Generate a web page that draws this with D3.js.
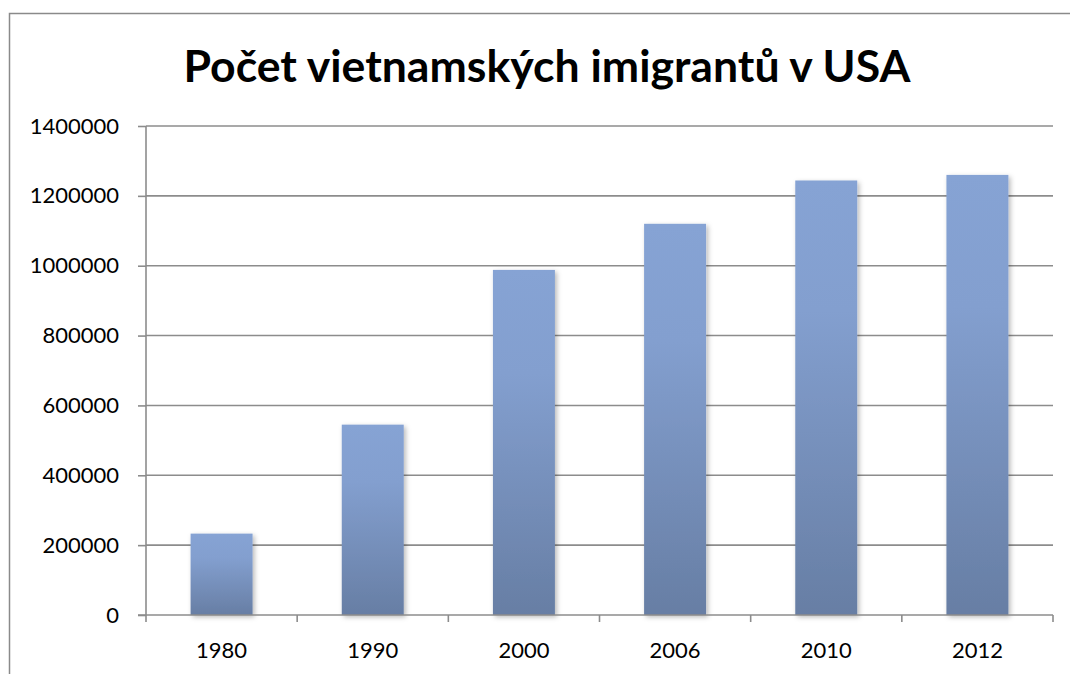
<!DOCTYPE html>
<html>
<head>
<meta charset="utf-8">
<script src="https://cdn.jsdelivr.net/npm/d3@7"></script>
<style>
  body { margin: 0; background: #fff; }
  svg text { font-family: Lato, "Open Sans", sans-serif; }
</style>
</head>
<body>
<div id="chart"></div>
<script>
// data
var years = ['1980', '1990', '2000', '2006', '2010', '2012'];
var immigrants = [233000, 545000, 988000, 1120000, 1244000, 1260000];
var yTicks = [0, 200000, 400000, 600000, 800000, 1000000, 1200000, 1400000];
var title = 'Počet vietnamských imigrantů v USA';

var W = 1070, H = 674;
var plot = { left: 146, right: 1053, top: 126, bottom: 615 };

var svg = d3.select('#chart').append('svg').attr('width', W).attr('height', H);

var defs = svg.append('defs');
var grad = defs.append('linearGradient').attr('id', 'barGrad')
    .attr('x1', 0).attr('y1', 0).attr('x2', 0).attr('y2', 1);
grad.append('stop').attr('offset', '0%').attr('stop-color', '#86a3d4');
grad.append('stop').attr('offset', '30%').attr('stop-color', '#839fcf');
grad.append('stop').attr('offset', '100%').attr('stop-color', '#677ea4');

var shadow = defs.append('filter').attr('id', 'shadow')
    .attr('x', '-20%').attr('y', '-10%').attr('width', '150%').attr('height', '130%');
shadow.append('feDropShadow').attr('dx', 2).attr('dy', 2)
    .attr('stdDeviation', 2.5).attr('flood-color', '#000').attr('flood-opacity', 0.28);

// outer frame (cut off at right and bottom like the picture)
svg.append('rect')
    .attr('x', 9.5).attr('y', 13.5).attr('width', 1100).attr('height', 700)
    .attr('fill', 'none').attr('stroke', '#8a8a8a').attr('stroke-width', 1.5);

var x = d3.scaleBand().domain(years).range([plot.left, plot.right])
    .paddingInner(0.59).paddingOuter(0.295);
var y = d3.scaleLinear().domain([0, 1400000]).range([plot.bottom, plot.top]);

// gridlines
svg.append('g').selectAll('line').data(yTicks.slice(1)).join('line')
    .attr('x1', plot.left).attr('x2', plot.right)
    .attr('y1', function(d) { return y(d); }).attr('y2', function(d) { return y(d); })
    .attr('stroke', '#8c8c8c').attr('stroke-width', 1.6);

// bars
svg.append('g').selectAll('rect').data(immigrants).join('rect')
    .attr('x', function(d, i) { return x(years[i]); })
    .attr('y', function(d) { return y(d); })
    .attr('width', x.bandwidth())
    .attr('height', function(d) { return y(0) - y(d); })
    .attr('fill', 'url(#barGrad)')
    .attr('filter', 'url(#shadow)');

// y axis
var yAxis = svg.append('g').attr('transform', 'translate(' + plot.left + ',0)')
    .call(d3.axisLeft(y).tickValues(yTicks).tickFormat(d3.format('d')).tickSize(8).tickPadding(19));
yAxis.select('.domain').attr('stroke', '#8c8c8c').attr('stroke-width', 1.6)
    .attr('d', 'M0,' + plot.top + 'V' + plot.bottom);
yAxis.selectAll('.tick line').attr('stroke', '#8c8c8c').attr('stroke-width', 1.6);
yAxis.selectAll('.tick text').attr('fill', '#000').style('font-size', '22px')
    .style('font-family', 'Lato, sans-serif');

// x axis: ticks on category boundaries
var xAxis = svg.append('g').attr('transform', 'translate(0,' + plot.bottom + ')');
xAxis.append('line').attr('x1', plot.left - 8).attr('x2', plot.right)
    .attr('stroke', '#8c8c8c').attr('stroke-width', 1.6);
var bounds = years.map(function(d) { return x(d) - x.step() * x.paddingOuter(); });
bounds.push(plot.right);
xAxis.selectAll('line.tk').data(bounds).join('line').attr('class', 'tk')
    .attr('x1', function(d) { return d; }).attr('x2', function(d) { return d; })
    .attr('y1', 0).attr('y2', 7)
    .attr('stroke', '#8c8c8c').attr('stroke-width', 1.6);
xAxis.selectAll('text').data(years).join('text')
    .attr('x', function(d) { return x(d) + x.bandwidth() / 2; })
    .attr('y', 43)
    .attr('text-anchor', 'middle')
    .style('font-size', '22px')
    .text(function(d) { return d; });

// title, fitted to the width it has in the picture
var t = svg.append('text')
    .attr('x', 547).attr('y', 82)
    .attr('text-anchor', 'middle')
    .style('font-weight', 'bold')
    .style('font-size', '44px')
    .text(title);
var tw = t.node().getComputedTextLength();
t.style('font-size', (44 * 727 / tw) + 'px');
</script>
</body>
</html>
